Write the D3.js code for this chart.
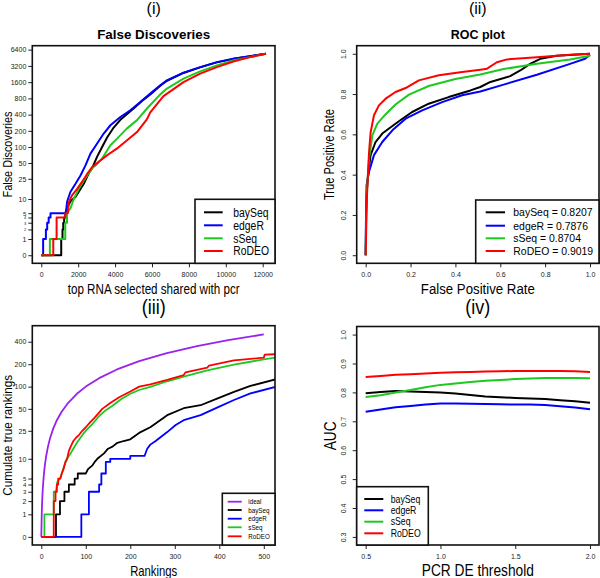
<!DOCTYPE html>
<html><head><meta charset="utf-8">
<script src="https://cdn.jsdelivr.net/npm/d3@7"></script>
<style>body{margin:0;background:#fff} svg{display:block}</style>
</head><body><svg width="600" height="578"></svg>
<script>
const FONT = '"Liberation Sans", Arial, Helvetica, sans-serif';
const methods = ["baySeq", "edgeR", "sSeq", "RoDEO"];
const colors = {ideal: "#9a22ee", baySeq: "#000000", edgeR: "#0000ff", sSeq: "#1ec81e", RoDEO: "#ff0000"};

// ---- Panel (i): False discoveries vs top RNA selected ----
const fdXTicks = [0, 2000, 4000, 6000, 8000, 10000, 12000];
const fdYTicks = [0, 1, 2, 3, 4, 5, 10, 25, 50, 100, 200, 400, 800, 1600, 3200, 6400];
const fdBaySeq = [[0,0],[1080,0],[1080,1],[1150,1],[1150,2],[1190,2],[1190,3],[1240,3],[1240,4],[1300,4],[1300,5],[1440,7],[1584,9],[1854,11],[2032,14],[2303,20],[2573,32],[2757,40],[3027,66],[3297,100],[3568,150],[3924,230],[4286,320],[4649,410],[5005,520],[5546,760],[5908,950],[6449,1370],[6811,1700],[7708,2370],[8611,3000],[9514,3720],[10411,4320],[11314,4840],[12180,5370]];
const fdEdgeR = [[0,0],[100,0],[100,1],[250,1],[250,2],[320,2],[320,3],[400,3],[400,4],[500,4],[500,5],[1330,5],[1405,9],[1584,14],[1854,20],[2124,29],[2395,45],[2665,75],[3027,116],[3384,178],[3746,254],[4286,362],[4827,482],[5368,686],[5908,981],[6449,1398],[6811,1725],[7708,2400],[8611,3040],[9514,3760],[10411,4350],[11314,4850],[12180,5370]];
const fdSSeq = [[0,0],[466,0],[466,1],[1300,1],[1300,3],[1395,3],[1395,5],[1584,6.4],[1762,10],[2032,16],[2303,23],[2757,40],[3027,48],[3297,61],[3746,108],[4108,143],[4649,222],[5189,316],[5730,520],[6449,950],[6811,1216],[7708,1857],[8611,2535],[9514,3267],[10411,4040],[11314,4650],[12180,5370]];
const fdRoDEO = [[0,0],[650,0],[650,1],[830,1],[830,4],[1300,4],[1300,5],[1440,5],[1492,8.7],[1675,12],[1945,16],[2216,22],[2486,31],[2757,42],[3027,50],[3568,70],[4108,94],[4649,134],[5189,190],[5730,330],[5908,440],[6622,880],[7708,1606],[8611,2300],[9514,3040],[10411,3870],[11314,4650],[12180,5370]];

// ---- Panel (ii): ROC ----
const rocTicks = [0, 0.2, 0.4, 0.6, 0.8, 1.0];
const aucValues = {baySeq: "0.8207", edgeR: "0.7876", sSeq: "0.8704", RoDEO: "0.9019"};
const rocBaySeq = [[0,0],[0.002,0.2],[0.006,0.33],[0.012,0.414],[0.022,0.497],[0.044,0.562],[0.074,0.604],[0.104,0.629],[0.148,0.665],[0.207,0.711],[0.281,0.752],[0.37,0.785],[0.467,0.818],[0.511,0.835],[0.556,0.86],[0.644,0.889],[0.689,0.917],[0.733,0.95],[0.778,0.975],[0.852,0.99],[1,1]];
const rocEdgeR = [[0,0],[0.001,0.15],[0.004,0.348],[0.015,0.414],[0.037,0.497],[0.074,0.562],[0.119,0.62],[0.178,0.678],[0.252,0.719],[0.341,0.76],[0.43,0.794],[0.511,0.813],[0.615,0.847],[0.763,0.896],[0.911,0.95],[0.978,0.975],[1,0.995]];
const rocSSeq = [[0,0],[0.002,0.15],[0.006,0.33],[0.015,0.48],[0.03,0.596],[0.052,0.653],[0.089,0.7],[0.133,0.748],[0.193,0.797],[0.281,0.84],[0.4,0.875],[0.511,0.897],[0.615,0.924],[0.763,0.95],[0.911,0.972],[1,0.99]];
const rocRoDEO = [[0,0],[0.002,0.1],[0.003,0.216],[0.009,0.38],[0.015,0.51],[0.022,0.61],[0.037,0.695],[0.059,0.744],[0.089,0.777],[0.133,0.81],[0.178,0.83],[0.237,0.868],[0.326,0.893],[0.43,0.909],[0.511,0.921],[0.541,0.926],[0.585,0.958],[0.63,0.972],[0.763,0.983],[0.911,0.995],[1,1]];

// ---- Panel (iii): cumulative true rankings ----
const ctXTicks = [0, 100, 200, 300, 400, 500];
const ctYTicks = [0, 1, 2, 3, 4, 5, 10, 25, 50, 100, 200, 400];
const ctIdeal = [[0,0],[1,1],[2,2],[3,3],[4,4],[6,6],[8,8],[11,11],[15,15],[20,20],[27,27],[35,35],[45,45],[60,60],[80,80],[100,100],[130,130],[170,170],[220,220],[280,280],[350,350],[420,420],[500,500]];
const ctBaySeq = [[0,0],[33,0],[33,1],[42,1],[42,2],[52,2],[52,3],[62,3],[62,4],[75,4],[75,5],[82,5],[82,6],[100,6],[105,7],[115,8],[120,9],[126,10],[141,12],[150,14],[160,15],[171,17],[185,18],[200,19],[223,24],[245,28],[283,41],[320,51],[358,56],[395,69],[433,85],[470,102],[526,125]];
const ctEdgeR = [[0,0],[90,0],[90,1],[107,1],[107,3],[130,3],[130,4],[135,4],[135,6],[145,6],[145,9],[155,9],[155,10],[200,10],[200,11],[232,11],[238,14],[245,16],[257,18],[283,24],[302,30],[320,35],[358,41],[395,52],[433,66],[470,81],[526,99]];
const ctSSeq = [[0,0],[7,0],[7,1],[28,1],[28,3],[33,3],[36,4.4],[42,5],[46,6],[52,8],[58,10],[66,12],[72,14],[80,17],[88,20],[95,23],[105,27],[115,31],[130,40],[145,48],[160,55],[180,68],[200,80],[220,90],[245,99],[283,118],[320,136],[373,165],[433,198],[500,232],[526,245]];
const ctRoDEO = [[0,0],[28,0],[28,2],[32,2],[32,3],[35,3],[35,4],[38,4],[38,5],[43,5],[46,6],[50,7],[54,9],[58,10],[62,13],[66,15],[72,18],[78,20],[85,22],[92,25],[100,28],[110,33],[120,38],[137,50],[155,60],[175,72],[200,86],[220,100],[245,107],[283,123],[320,143],[324,155],[373,180],[377,192],[433,225],[500,245],[502,268],[526,272]];

// ---- Panel (iv): AUC vs PCR DE threshold ----
const thresholds = [0.5,0.6,0.7,0.8,0.9,1.0,1.1,1.2,1.3,1.4,1.5,1.6,1.7,1.8,1.9,2.0];
const aucBaySeq = [0.797,0.801,0.805,0.803,0.801,0.800,0.796,0.791,0.786,0.783,0.781,0.779,0.777,0.773,0.769,0.764];
const aucEdgeR  = [0.733,0.741,0.749,0.753,0.758,0.762,0.762,0.761,0.760,0.759,0.758,0.758,0.756,0.752,0.748,0.742];
const aucSSeq   = [0.784,0.790,0.800,0.808,0.818,0.826,0.831,0.836,0.840,0.843,0.846,0.848,0.850,0.850,0.850,0.849];
const aucRoDEO  = [0.853,0.857,0.861,0.863,0.865,0.868,0.870,0.871,0.872,0.873,0.874,0.874,0.874,0.874,0.873,0.871];
const aucXTicks = [0.5, 1.0, 1.5, 2.0];
const aucYTicks = [0.3, 0.4, 0.5, 0.6, 0.7, 0.8, 0.9, 1.0];

const svg = d3.select("svg");

// text helper; opts.len forces a width, opts.sx narrows the natural width
function txt(x, y, s, size, opts = {}) {
  const t = svg.append("text").attr("x", x).attr("y", y).text(s)
    .attr("font-family", FONT).attr("font-size", size).attr("fill", opts.fill || "#000")
    .attr("text-anchor", opts.anchor || "middle");
  if (opts.bold) t.attr("font-weight", "bold");
  if (opts.rot) t.attr("transform", `rotate(-90,${x},${y})`);
  let len = opts.len;
  if (!len && opts.sx) len = t.node().getComputedTextLength() * opts.sx;
  if (len) t.attr("textLength", len).attr("lengthAdjust", "spacingAndGlyphs");
  return t;
}

function panel(cfg) {
  const {x0, x1, y0, y1, id} = cfg;
  const xPad = (x1 - x0) * 0.04 / 1.08, yPad = (y1 - y0) * 0.04 / 1.08;
  const x = cfg.x.range([x0 + xPad, x1 - xPad]);
  const y = cfg.y.range([y1 - yPad, y0 + yPad]);
  svg.append("clipPath").attr("id", id).append("rect")
    .attr("x", x0).attr("y", y0).attr("width", x1 - x0).attr("height", y1 - y0);

  const gx = svg.append("g").attr("transform", `translate(0,${y1})`)
    .call(d3.axisBottom(x).tickValues(cfg.xTicks).tickFormat(cfg.xFmt).tickSize(4).tickPadding(5));
  gx.select(".domain").remove();
  gx.selectAll("text").attr("font-size", 7).attr("font-family", FONT).attr("fill", "#222");
  gx.selectAll("line").attr("stroke", "#222");

  const gy = svg.append("g").attr("transform", `translate(${x0},0)`)
    .call(d3.axisLeft(y).tickValues(cfg.yTicks).tickFormat(cfg.yFmt).tickSize(4).tickPadding(2));
  gy.select(".domain").remove();
  gy.selectAll("line").attr("stroke", "#222");
  gy.selectAll("text").attr("font-size", 7).attr("font-family", FONT).attr("fill", "#222");
  if (cfg.rotY) {
    gy.selectAll("text").attr("text-anchor", "middle").attr("transform", "rotate(-90)")
      .attr("x", 0).attr("y", -10.5).attr("dy", 0);
  }
  if (cfg.smallY) gy.selectAll("text").each(function (d) {
    if (cfg.smallY[d] !== undefined) d3.select(this).attr("font-size", cfg.smallY[d]);
  });

  const line = d3.line().x(d => x(d[0])).y(d => y(d[1]));
  const gl = svg.append("g").attr("clip-path", `url(#${id})`);
  cfg.series.forEach(s => {
    gl.append("path").attr("d", line(s.data)).attr("fill", "none")
      .attr("stroke", colors[s.name]).attr("stroke-width", cfg.lw)
      .attr("stroke-linejoin", "round");
  });
  svg.append("rect").attr("x", x0).attr("y", y0).attr("width", x1 - x0).attr("height", y1 - y0)
    .attr("fill", "none").attr("stroke", "#111").attr("stroke-width", 1.6);

  const L = cfg.legend;
  svg.append("rect").attr("x", L.x0).attr("y", L.y0).attr("width", L.x1 - L.x0).attr("height", L.y1 - L.y0)
    .attr("fill", "#fff").attr("stroke", "#111").attr("stroke-width", 1.6);
  L.items.forEach((it, i) => {
    const yy = L.ys[i];
    svg.append("line").attr("x1", L.lx0).attr("x2", L.lx1).attr("y1", yy).attr("y2", yy)
      .attr("stroke", colors[it.name]).attr("stroke-width", cfg.lw);
    txt(L.tx, yy + L.size * 0.35, it.label, L.size, {anchor: "start", sx: L.sx || 0.83});
  });
  return {x, y};
}

// Panel (i)
panel({
  id: "c1", x0: 32.3, x1: 275, y0: 45.7, y1: 263.3, lw: 2,
  x: d3.scaleLinear().domain([0, 12180]), y: d3.scaleSymlog().constant(1).domain([0, 5370]),
  xTicks: fdXTicks, xFmt: d3.format("d"), yTicks: fdYTicks, yFmt: d3.format("d"), smallY: {2: 4, 3: 4, 4: 4, 5: 6},
  series: [{name: "baySeq", data: fdBaySeq}, {name: "edgeR", data: fdEdgeR}, {name: "sSeq", data: fdSSeq}, {name: "RoDEO", data: fdRoDEO}],
  legend: {x0: 195, x1: 275, y0: 199.3, y1: 263.3, lx0: 204, lx1: 222.7, tx: 233.3, size: 12.5,
    ys: [212.3, 225.3, 238.3, 251], items: methods.map(m => ({name: m, label: m}))}
});
txt(153.7, 14, "(i)", 16);
txt(153.7, 39, "False Discoveries", 13.5, {bold: true, len: 113});
txt(153.7, 294, "top RNA selected shared with pcr", 14, {len: 172});
txt(12, 154.5, "False Discoveries", 13.5, {rot: true, len: 86});

// Panel (ii)
panel({
  id: "c2", x0: 356.7, x1: 599, y0: 45.7, y1: 263.3, lw: 2,
  x: d3.scaleLinear().domain([0, 1]), y: d3.scaleLinear().domain([0, 1]),
  xTicks: rocTicks, xFmt: d3.format(".1f"), yTicks: rocTicks, yFmt: d3.format(".1f"), rotY: true,
  series: [{name: "baySeq", data: rocBaySeq}, {name: "edgeR", data: rocEdgeR}, {name: "sSeq", data: rocSSeq}, {name: "RoDEO", data: rocRoDEO}],
  legend: {x0: 475.7, x1: 599, y0: 200, y1: 263.3, lx0: 485.7, lx1: 505, tx: 513.3, size: 11, sx: 0.95,
    ys: [212.3, 225.7, 238.3, 251], items: methods.map(m => ({name: m, label: `${m} = ${aucValues[m]}`}))}
});
txt(477.8, 14, "(ii)", 16);
txt(477.8, 39, "ROC plot", 13.5, {bold: true, len: 54});
txt(477.8, 294, "False Positive Rate", 14, {len: 114});
txt(334.3, 154.5, "True Positive Rate", 14, {rot: true, len: 91});

// Panel (iii)
panel({
  id: "c3", x0: 32.3, x1: 275, y0: 325.7, y1: 545, lw: 1.8,
  x: d3.scaleLinear().domain([0, 505]), y: d3.scaleSymlog().constant(1).domain([0, 510]),
  xTicks: ctXTicks, xFmt: d3.format("d"), yTicks: ctYTicks, yFmt: d3.format("d"), smallY: {3: 6, 4: 6, 5: 6},
  series: [{name: "ideal", data: ctIdeal}, {name: "baySeq", data: ctBaySeq}, {name: "edgeR", data: ctEdgeR}, {name: "sSeq", data: ctSSeq}, {name: "RoDEO", data: ctRoDEO}],
  legend: {x0: 222.3, x1: 275, y0: 493.3, y1: 545, lx0: 227.7, lx1: 241.7, tx: 248.3, size: 7.5,
    ys: [501.7, 510, 518.7, 527.3, 536.3], items: ["ideal", ...methods].map(m => ({name: m, label: m}))}
});
txt(153.7, 314, "(iii)", 21, {len: 24});
txt(153.7, 576, "Rankings", 15, {len: 47});
txt(12.5, 435.3, "Cumulate true rankings", 13.5, {rot: true, len: 121});

// Panel (iv)
const toPts = vals => thresholds.map((t, i) => [t, vals[i]]);
panel({
  id: "c4", x0: 356.7, x1: 599, y0: 326.5, y1: 545, lw: 2,
  x: d3.scaleLinear().domain([0.5, 2.0]), y: d3.scaleLinear().domain([0.3, 1.0]),
  xTicks: aucXTicks, xFmt: d3.format(".1f"), yTicks: aucYTicks, yFmt: d3.format(".1f"), rotY: true,
  series: [{name: "baySeq", data: toPts(aucBaySeq)}, {name: "edgeR", data: toPts(aucEdgeR)}, {name: "sSeq", data: toPts(aucSSeq)}, {name: "RoDEO", data: toPts(aucRoDEO)}],
  legend: {x0: 356.7, x1: 428.3, y0: 486.7, y1: 545, lx0: 364.3, lx1: 383.3, tx: 390.7, size: 10.5,
    ys: [499, 510.3, 521.7, 533.3], items: methods.map(m => ({name: m, label: m}))}
});
txt(477.8, 314, "(iv)", 21, {len: 25});
txt(477.8, 576, "PCR DE threshold", 16, {len: 112});
txt(336, 435.8, "AUC", 16.5, {rot: true, len: 29});
</script>
</body></html>
